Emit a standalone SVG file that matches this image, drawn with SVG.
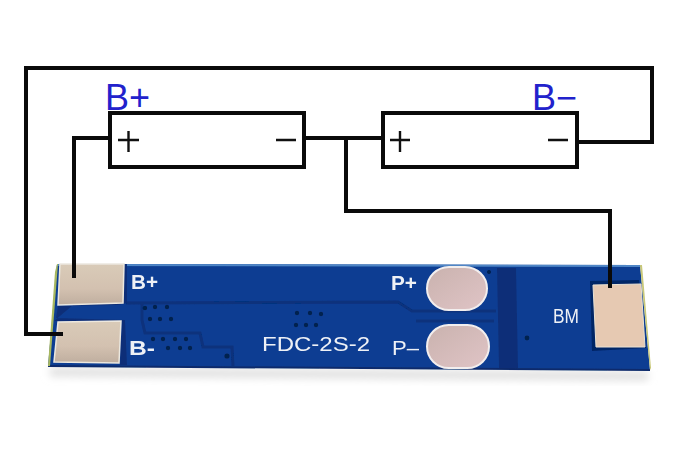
<svg xmlns="http://www.w3.org/2000/svg" width="679" height="452" viewBox="0 0 679 452">
<defs>
<style>
.w{fill:none;stroke:#0a0a0a;stroke-width:4}
.cell{fill:#fff;stroke:#0a0a0a;stroke-width:4}
.sign{stroke:#111;stroke-width:2.4;fill:none}
.pcb{font-family:"Liberation Sans",Arial,sans-serif;fill:#eef1f6;font-size:20px}
.blue{font-family:"Liberation Sans",Arial,sans-serif;fill:#2222cc;font-size:36px}
.gap{fill:none;stroke:#07307c;stroke-width:3}
.via{fill:#06214f}
.dark{fill:#082f78}
.pad{fill:url(#padG);stroke:#ece8df;stroke-width:1.5}
.pad2{fill:#e6c9b2;stroke:#e8e2d4;stroke-width:1}
.oval{fill:url(#ovalG);stroke:#f2eeee;stroke-width:2}
</style>
<linearGradient id="padG" x1="0" y1="0" x2="0" y2="1"><stop offset="0" stop-color="#d9cbb8"/><stop offset="0.6" stop-color="#d3c1b0"/><stop offset="1" stop-color="#bfae9f"/></linearGradient>
<linearGradient id="ovalG" x1="0" y1="0" x2="1" y2="1"><stop offset="0" stop-color="#c9b2ae"/><stop offset="1" stop-color="#e0c4c6"/></linearGradient>
<filter id="soft"><feGaussianBlur stdDeviation="0.6"/></filter>
<filter id="shadow" x="-5%" y="-50%" width="110%" height="200%"><feGaussianBlur stdDeviation="4"/></filter>
</defs>
<rect width="679" height="452" fill="#fff"/>
<path d="M50 368L648 372L648 380L50 376Z" fill="#dcdcdc" filter="url(#shadow)"/>
<g id="board" filter="url(#soft)">
<path d="M57 264L640 265L650 370L48 366Z" fill="#0c3e92"/>
<path d="M57 264L640 265L641 267L57 266Z" fill="#4f86c6"/>
<path d="M48 365L650 369L650 371L48 367Z" fill="#0a2c6c"/>
<path d="M57 264L55 272L49 352L48 366L50 366L58 264Z" fill="#a8b860"/>
<path d="M640 265L642 265L651 368L650 370Z" fill="#c9c878"/>
<path class="gap" d="M126 303L398 302L412 311L496 311"/>
<path class="gap" d="M142 304L142 320L145 333L200 333L203 347L232 347L233 366"/>
<path class="gap" d="M416 321L494 321"/>
<path class="dark" d="M497 268L516 268L518 368L499 368Z"/>
<path class="dark" d="M122 264L127 264L127 303L118 305L58 306L56 318L125 320L127 365L120 365L122 321L54 321Z"/>
<g class="via">
<circle cx="145" cy="308" r="2.2"/><circle cx="155" cy="307" r="2.2"/><circle cx="167" cy="307" r="2.2"/>
<circle cx="150" cy="319" r="2.2"/><circle cx="160" cy="319" r="2.2"/><circle cx="171" cy="319" r="2.2"/>
<circle cx="297" cy="313" r="2.2"/><circle cx="310" cy="313" r="2.2"/><circle cx="321" cy="314" r="2.2"/>
<circle cx="296" cy="325" r="2.2"/><circle cx="306" cy="325" r="2.2"/><circle cx="316" cy="325" r="2.2"/>
<circle cx="153" cy="339" r="2.2"/><circle cx="163" cy="339" r="2.2"/><circle cx="175" cy="339" r="2.2"/><circle cx="186" cy="339" r="2.2"/>
<circle cx="168" cy="348" r="2.2"/><circle cx="180" cy="348" r="2.2"/><circle cx="190" cy="348" r="2.2"/>
<circle cx="227" cy="356" r="2.6"/><circle cx="527" cy="338" r="2.4"/><circle cx="489" cy="272" r="2"/>
</g>
</g>
<g id="pad-b-plus" filter="url(#soft)">
<path class="pad" d="M60 264L124 264L123 303L58 305Z"/>
<text class="pcb" x="131" y="289" textLength="27" lengthAdjust="spacingAndGlyphs" font-weight="bold">B+</text>
</g>
<g id="pad-b-minus" filter="url(#soft)">
<path class="pad" d="M58 322L121 321L119 363L54 362Z"/>
<text class="pcb" x="129" y="355" textLength="26" lengthAdjust="spacingAndGlyphs" font-weight="bold">B-</text>
</g>
<g id="pad-bm" filter="url(#soft)">
<path d="M590 281L639 280L646 348L592 351Z" fill="#062566"/>
<path class="pad2" d="M593 285L641 284L645 347L596 347Z"/>
<text class="pcb" x="553" y="323" textLength="26" lengthAdjust="spacingAndGlyphs">BM</text>
</g>
<g id="pad-p-plus" filter="url(#soft)">
<rect class="oval" x="427" y="267" width="60" height="43" rx="22"/>
<text class="pcb" x="391" y="290" textLength="26" lengthAdjust="spacingAndGlyphs" font-weight="bold">P+</text>
</g>
<g id="pad-p-minus" filter="url(#soft)">
<rect class="oval" x="427" y="325" width="62" height="43" rx="21.500"/>
<text class="pcb" x="392" y="355" textLength="27" lengthAdjust="spacingAndGlyphs">P–</text>
</g>
<g id="label-fdc" filter="url(#soft)">
<text class="pcb" x="262" y="351" textLength="108" lengthAdjust="spacingAndGlyphs">FDC-2S-2</text>
</g>
<g id="connectors">
<path class="w" d="M110 138H74V278"/>
<path class="w" d="M304 138H383"/>
<path class="w" d="M346 138V211H610V288"/>
<path class="w" d="M578 142H652V68H26V334H63"/>
</g>
<g id="cell-1">
<rect class="cell" x="110" y="113" width="194" height="54"/>
<path class="sign" d="M118 140H139M128.500 131V152M276 140H296"/>
<text class="blue" x="105" y="110">B+</text>
</g>
<g id="cell-2">
<rect class="cell" x="383" y="113" width="194" height="54"/>
<path class="sign" d="M390 140H410M400 131V152M548 140H568"/>
<text class="blue" x="532" y="110">B−</text>
</g>
</svg>
